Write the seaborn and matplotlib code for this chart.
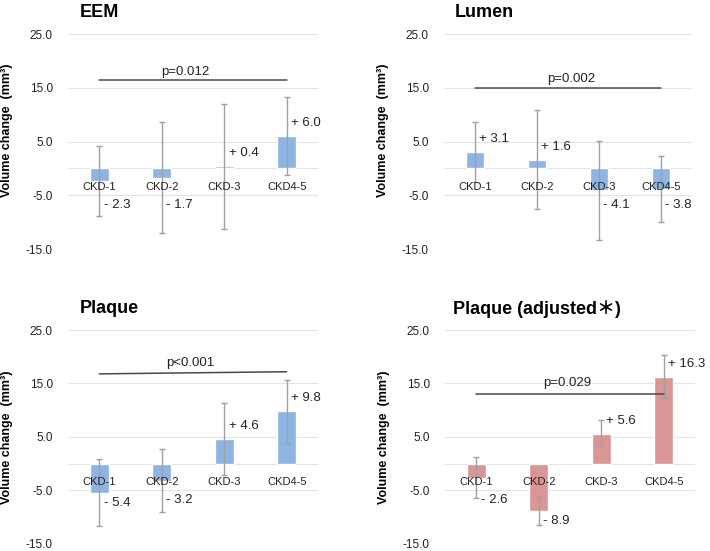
import pandas as pd
import matplotlib
matplotlib.use("Agg")
import matplotlib.pyplot as plt
import seaborn as sns

# ==============================================================================
# DATA
# ==============================================================================
categories = ["CKD-1", "CKD-2", "CKD-3", "CKD4-5"]

eem_mean = [-2.3, -1.7, 0.4, 6.0]
eem_err = [6.5, 10.3, 11.6, 7.3]

lumen_mean = [3.1, 1.6, -4.1, -3.8]
lumen_err = [5.6, 9.2, 9.3, 6.1]

plaque_mean = [-5.4, -3.2, 4.6, 9.8]
plaque_err = [6.3, 5.9, 6.8, 5.85]

adj_mean = [-2.6, -8.9, 5.6, 16.3]
adj_err = [3.8, 2.6, 2.5, 4.0]

titles = ["EEM", "Lumen", "Plaque", "Plaque (adjusted\uff0a)"]
p_texts = ["p=0.012", "p=0.002", "p<0.001", "p=0.029"]

# ==============================================================================
# STYLE / LAYOUT
# ==============================================================================
BLUE = "#8EB4E3"
RED = "#D99694"
GRID = "#E3E3E3"
ERR = "#A0A0A0"

sns.set_theme(style="white")
plt.rcParams["font.family"] = ["Liberation Sans", "Noto Sans CJK JP", "DejaVu Sans"]

# (left, bottom, width, height) in figure fractions
positions = [
    (0.0958, 0.548, 0.352, 0.390),
    (0.6254, 0.548, 0.349, 0.390),
    (0.0958, 0.013, 0.352, 0.388),
    (0.6268, 0.013, 0.352, 0.388),
]
# p-line heights (left, right), p text position
p_lines = [(16.4, 16.4), (15.0, 15.0), (16.8, 17.2), (13.1, 13.1)]
p_text_pos = [(1.37, 17.9), (1.56, 16.6), (1.46, 18.8), (1.45, 15.1)]
title_x = [0.048, 0.044, 0.048, 0.03]
ylabel_y = [0.553, 0.553, 0.5, 0.5]


def draw_panel(ax, means, errs, color, idx):
    df = pd.DataFrame({"group": categories, "value": means})
    sns.barplot(data=df, x="group", y="value", color=color, width=0.3,
                saturation=1, ax=ax, zorder=2)
    x = list(range(len(categories)))
    ax.errorbar(x, means, yerr=errs, fmt="none", ecolor=ERR, elinewidth=1,
                capsize=2, capthick=1, zorder=3)

    ax.set_xlim(-0.5, 3.5)
    ax.set_ylim(-15, 25)
    ax.set_yticks([-15, -5, 5, 15, 25])
    ax.set_yticklabels([f"{t:.1f}" for t in [-15, -5, 5, 15, 25]])
    ax.tick_params(axis="y", length=0, pad=11, labelsize=8.5, labelcolor="#222222")
    ax.set_xticks([])
    ax.set_xlabel("")
    ax.grid(axis="y", color=GRID, lw=0.8)
    ax.set_axisbelow(True)
    for s in ax.spines.values():
        s.set_visible(False)
    ax.axhline(0, color=GRID, lw=0.8, zorder=1)

    # category labels sit at the zero line
    for i, c in enumerate(categories):
        ax.annotate(c, xy=(i, 0), xytext=(0, -9.5), textcoords="offset points",
                    ha="center", va="top", fontsize=8, color="#222222", zorder=5)

    # value labels
    for i, v in enumerate(means):
        if v >= 0:
            ly = v + 2.4
            txt = f"+ {v:.1f}"
        else:
            ly = min(v - 1.9, -6.8)
            txt = f"- {abs(v):.1f}"
        ax.text(i + 0.07, ly, txt, ha="left", va="center", fontsize=9.5,
                color="#222222", zorder=5)

    # significance line
    y1, y2 = p_lines[idx]
    ax.plot([0, 3], [y1, y2], color="#4A4A4A", lw=1.1, zorder=4)
    px, py = p_text_pos[idx]
    ax.text(px, py, p_texts[idx], ha="center", va="center", fontsize=9.5,
            color="#222222")

    ax.text(title_x[idx], 1.10, titles[idx], transform=ax.transAxes,
            ha="left", va="center", fontsize=13, weight="bold", color="black")
    ax.set_ylabel("Volume change  (mm\u00b3)", fontsize=9, weight="bold",
                  color="black")
    ax.yaxis.set_label_coords(-0.222, ylabel_y[idx])


fig = plt.figure(figsize=(7.1, 5.51), dpi=100)
panels = [
    (eem_mean, eem_err, BLUE),
    (lumen_mean, lumen_err, BLUE),
    (plaque_mean, plaque_err, BLUE),
    (adj_mean, adj_err, RED),
]
for idx, (means, errs, color) in enumerate(panels):
    ax = fig.add_axes(positions[idx])
    draw_panel(ax, means, errs, color, idx)

fig.savefig("out.png", dpi=100)
